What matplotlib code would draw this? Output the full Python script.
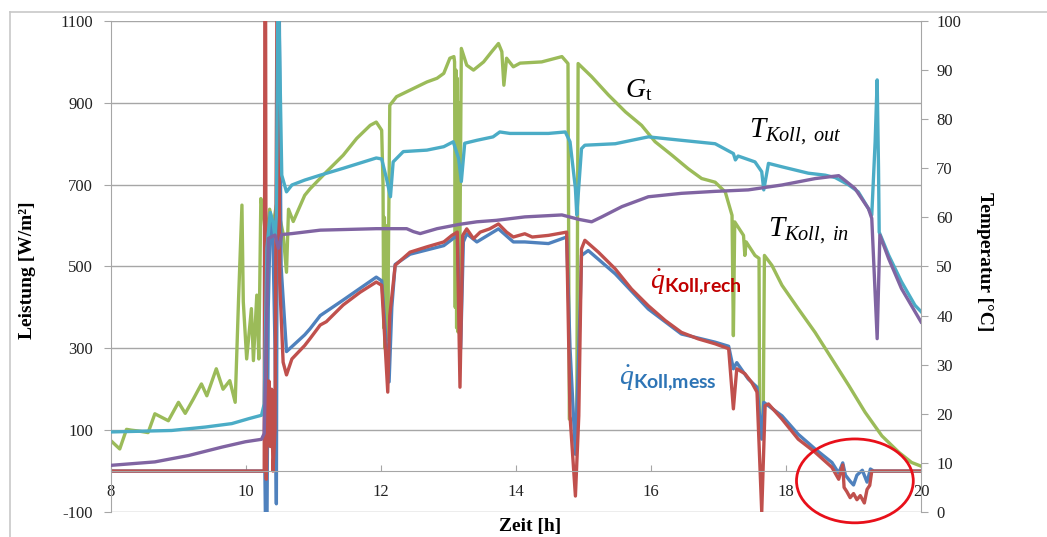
import matplotlib
matplotlib.use('Agg')
import matplotlib.pyplot as plt
from matplotlib.patches import Ellipse
from matplotlib.lines import Line2D

# --- data (time in h) ---
g_time = [8.0, 8.13, 8.23, 8.3, 8.4, 8.55, 8.65, 8.85, 9.0, 9.1, 9.22, 9.34, 9.42, 9.56, 9.66,
          9.76, 9.84, 9.89, 9.94, 9.96, 10.01, 10.08, 10.11, 10.16, 10.19, 10.22, 10.26, 10.3,
          10.35, 10.4, 10.45, 10.5, 10.55, 10.6, 10.63, 10.7, 10.87, 10.95, 11.19, 11.44, 11.64,
          11.84, 11.93, 12.01, 12.03, 12.04, 12.05, 12.06, 12.07, 12.08, 12.09, 12.1, 12.13,
          12.23, 12.43, 12.68, 12.83, 12.93, 13.02, 13.08, 13.09, 13.1, 13.11, 13.12, 13.13,
          13.14, 13.15, 13.16, 13.19, 13.27, 13.37, 13.52, 13.64, 13.74, 13.79, 13.82, 13.86,
          13.96, 14.06, 14.38, 14.68, 14.77, 14.79, 14.9, 14.92, 15.12, 15.37, 15.62, 15.86,
          16.06, 16.31, 16.55, 16.75, 16.95, 17.1, 17.2, 17.22, 17.24, 17.37, 17.39, 17.41,
          17.54, 17.6, 17.61, 17.66, 17.68, 17.79, 17.94, 18.18, 18.43, 18.68, 18.93, 19.17,
          19.42, 19.67, 19.86, 20.0]
g_vals = [74, 54, 102, 100, 98, 94, 140, 123, 168, 141, 176, 213, 184, 250, 200,
          221, 168, 421, 650, 414, 274, 397, 270, 430, 274, 666, 625, 560,
          640, 600, 650, 620, 580, 486, 640, 610, 674, 690, 731, 772, 813,
          845, 853, 833, 700, 350, 620, 300, 600, 320, 580, 350, 894,
          915, 931, 951, 960, 972, 1009, 1013, 1000, 400, 980, 350, 960,
          340, 900, 350, 1033, 992, 980, 1000, 1025, 1045, 1025, 943, 1009,
          988, 997, 1000, 1013, 996, 127, 127, 996, 964, 919, 878, 845,
          805, 772, 739, 715, 706, 682, 625, 331, 609, 576, 527, 560,
          527, 520, 88, 88, 527, 503, 454, 397, 339, 274, 209, 144,
          86, 46, 21, 12]

tout_time = [8.0, 8.9, 9.4, 9.79, 10.04, 10.23, 10.27, 10.31, 10.36, 10.4, 10.43, 10.45, 10.47,
             10.49, 10.53, 10.6, 10.68, 10.87, 11.1, 11.44, 11.93, 12.01, 12.08, 12.14, 12.18,
             12.33, 12.68, 12.93, 13.07, 13.15, 13.19, 13.24, 13.42, 13.66, 13.76, 13.91, 14.48,
             14.73, 14.8, 14.88, 14.9, 14.97, 15.02, 15.47, 15.96, 16.45, 16.95, 17.22, 17.25,
             17.29, 17.54, 17.64, 17.67, 17.74, 17.94, 18.33, 18.58, 18.73, 18.93, 19.07, 19.22,
             19.27, 19.32, 19.35, 19.37, 19.38, 19.52, 19.71, 19.91, 20.0]
tout_vals = [16.3, 16.6, 17.3, 18.0, 19.0, 19.7, 22, 53.7, 61, 59, 56, 60.5, 100,
             100, 68.6, 65.2, 66.6, 67.6, 68.6, 70, 72.1, 71.9, 68, 64.2, 71.3,
             73.4, 73.7, 74.4, 75.4, 72, 67.3, 75.1, 75.7, 76.4, 77.4, 77.1, 77.1,
             77.4, 75.4, 65.9, 60.5, 74, 74.7, 75, 76.4, 75.7, 75, 73, 71.7,
             72.5, 71.3, 69.3, 65.6, 71, 70.3, 69, 68.6, 68.1, 66.6, 65.2, 61.8,
             60.5, 75.4, 88, 70, 57, 52.3, 46.9, 42.1, 40.8]

tin_time = [8.0, 8.65, 9.15, 9.64, 9.99, 10.23, 10.27, 10.33, 10.43, 10.48, 10.53, 10.68, 11.1,
            11.93, 12.38, 12.48, 12.58, 12.83, 13.17, 13.42, 13.71, 14.13, 14.68, 14.93, 15.12,
            15.27, 15.57, 15.96, 16.45, 16.95, 17.44, 17.94, 18.43, 18.78, 18.83, 19.02, 19.22,
            19.27, 19.35, 19.39, 19.52, 19.71, 20.0]
tin_vals = [9.5, 10.2, 11.5, 13.2, 14.3, 14.8, 16, 55.7, 56.4, 53.7, 56.5, 56.7, 57.4,
            57.7, 57.7, 57.1, 56.7, 57.7, 58.6, 59.1, 59.4, 60.1, 60.5, 59.6, 59.1,
            60.1, 62.2, 64.2, 64.9, 65.3, 65.6, 66.6, 67.9, 68.5, 68.0, 65.9, 61.8,
            59.8, 35.3, 56.4, 51.6, 45.5, 38.7]

qr_time = [8.0, 10.27, 10.28, 10.29, 10.3, 10.32, 10.34, 10.36, 10.38, 10.4, 10.43, 10.46, 10.48,
           10.5, 10.55, 10.6, 10.68, 10.87, 10.95, 11.1, 11.19, 11.44, 11.69, 11.93, 12.01,
           12.05, 12.1, 12.13, 12.21, 12.43, 12.68, 12.93, 13.05, 13.13, 13.17, 13.21, 13.27,
           13.37, 13.47, 13.61, 13.74, 13.86, 13.96, 14.13, 14.24, 14.48, 14.75, 14.8, 14.88,
           14.93, 14.97, 15.02, 15.22, 15.47, 15.71, 15.96, 16.21, 16.45, 16.7, 16.95, 17.15,
           17.22, 17.27, 17.39, 17.49, 17.57, 17.64, 17.69, 17.74, 17.94, 18.18, 18.43, 18.68,
           18.78, 18.84, 18.86, 18.9, 18.95, 19.0, 19.05, 19.1, 19.16, 19.2, 19.24, 19.27, 20.0]
qr_vals = [0, 0, 1200, 1200, -20, 150, 220, 60, 200, 0, 100, 1200, 1200,
           461, 266, 235, 274, 307, 324, 357, 365, 406, 437, 462, 454,
           340, 193, 380, 503, 535, 548, 560, 576, 584, 205, 576, 592,
           568, 584, 592, 604, 584, 572, 580, 572, 576, 584, 135, -61,
           135, 543, 564, 535, 494, 445, 404, 368, 339, 323, 311, 299,
           152, 250, 238, 217, 193, -100, 160, 164, 127, 78, 46, 9,
           -20, 15, -40, -50, -65, -55, -70, -60, -78, -45, -35, 0, 0]

qm_time = [8.0, 10.28, 10.29, 10.31, 10.33, 10.36, 10.4, 10.43, 10.45, 10.47, 10.49, 10.52, 10.6,
           10.87, 10.95, 11.1, 11.44, 11.93, 12.01, 12.06, 12.12, 12.16, 12.21, 12.43, 12.93,
           13.13, 13.18, 13.22, 13.27, 13.42, 13.74, 13.96, 14.13, 14.48, 14.75, 14.8, 14.88,
           14.95, 14.97, 15.07, 15.47, 15.96, 16.45, 16.95, 17.15, 17.22, 17.27, 17.44, 17.57,
           17.64, 17.67, 17.94, 18.18, 18.43, 18.68, 18.78, 18.84, 18.88, 18.95, 19.0, 19.05,
           19.13, 19.2, 19.25, 19.3, 20.0]
qm_vals = [0, 0, -150, -150, 400, 620, 560, 300, -80, 1200, 1200, 500, 292,
           333, 348, 380, 418, 474, 465, 350, 218, 400, 505, 530, 551,
           576, 300, 560, 580, 560, 592, 560, 560, 556, 572, 300, 41,
           400, 527, 539, 482, 396, 335, 315, 305, 250, 265, 225, 205,
           78, 168, 135, 90, 54, 21, -5, 20, -10, -25, -34, -10,
           2, -27, 5, 0, 0]

x_ticks = [8, 10, 12, 14, 16, 18, 20]
left_ticks = [-100, 100, 300, 500, 700, 900, 1100]
right_ticks = [0, 10, 20, 30, 40, 50, 60, 70, 80, 90, 100]

plt.rcParams['font.family'] = 'Liberation Serif'
plt.rcParams['axes.unicode_minus'] = False
plt.rcParams['mathtext.fontset'] = 'custom'
plt.rcParams['mathtext.rm'] = 'Liberation Serif'
plt.rcParams['mathtext.it'] = 'Liberation Serif:italic'
plt.rcParams['mathtext.bf'] = 'Lato:bold'

grey = '#A6A6A6'
fig = plt.figure(figsize=(10.47, 5.37), dpi=100)
ax = fig.add_axes([0.106, 0.0466, 0.7737, 0.9143])
ax2 = ax.twinx()

lw = 2.4
ax.plot(g_time, g_vals, color='#9BBB59', lw=lw)
ax.plot(qm_time, qm_vals, color='#4F81BD', lw=lw)
ax.plot(qr_time, qr_vals, color='#C0504D', lw=lw)
ax2.plot(tout_time, tout_vals, color='#4BACC6', lw=lw)
ax2.plot(tin_time, tin_vals, color='#8064A2', lw=lw)

ax.set_xlim(8, 20)
ax.set_ylim(-100, 1100)
ax2.set_ylim(0, 100)
ax.set_xticks(x_ticks)
ax.set_yticks(left_ticks)
ax2.set_yticks(right_ticks)
ax.grid(axis='y', color=grey, lw=1)
ax.set_axisbelow(True)

for s in ['top', 'right']:
    ax.spines[s].set_visible(False)
for s in ['top', 'left', 'bottom']:
    ax2.spines[s].set_visible(False)
ax.spines['left'].set_color(grey)
ax.spines['bottom'].set_color(grey)
ax.spines['bottom'].set_position(('data', 0))
ax2.spines['right'].set_color(grey)

ax.tick_params(axis='x', direction='in', length=4, color=grey, pad=9, labelsize=12, labelcolor='#222222')
ax.tick_params(axis='y', length=5, color=grey, pad=8, labelsize=12, labelcolor='#222222')
ax2.tick_params(axis='y', length=5, color=grey, pad=6, labelsize=12, labelcolor='#222222')

fig.text(28 / 1047, 1 - 270 / 537, 'Leistung [W/m²]', rotation=90, fontsize=14,
         fontweight='bold', ha='center', va='center')
fig.text(985 / 1047, 1 - 262 / 537, 'Temperatur [°C]', rotation=270, fontsize=14,
         fontweight='bold', ha='center', va='center')
fig.text(530 / 1047, 1 - 526 / 537, 'Zeit [h]', fontsize=14, fontweight='bold',
         ha='center', va='center')

# curve labels
ax.text(15.62, 915, r'$G_\mathrm{t}$', fontsize=20, va='baseline')
ax.text(17.45, 816, r'$T_{Koll,\ out}$', fontsize=21, va='baseline')
ax.text(17.74, 574, r'$T_{Koll,\ in}$', fontsize=21, va='baseline')
ax.text(15.99, 447, r'$\dot{q}_{\mathbf{Koll{,}rech}}$', fontsize=20, va='baseline', color='#C00000')
ax.text(15.53, 213, r'$\dot{q}_{\mathbf{Koll{,}mess}}$', fontsize=20, va='baseline', color='#2E75B6')

# red circle around the evening region
ax.add_patch(Ellipse((19.02, -24), width=1.73, height=205, fill=False,
                     edgecolor='#E8101A', lw=2, clip_on=False, zorder=5))

# outer frame of the chart area
fig.add_artist(Line2D([10 / 1047, 1], [1 - 12 / 537, 1 - 12 / 537], color='#C8C8C8', lw=1.2))
fig.add_artist(Line2D([10 / 1047, 10 / 1047], [0, 1 - 12 / 537], color='#C8C8C8', lw=1.2))

fig.savefig('out.png', dpi=100)
